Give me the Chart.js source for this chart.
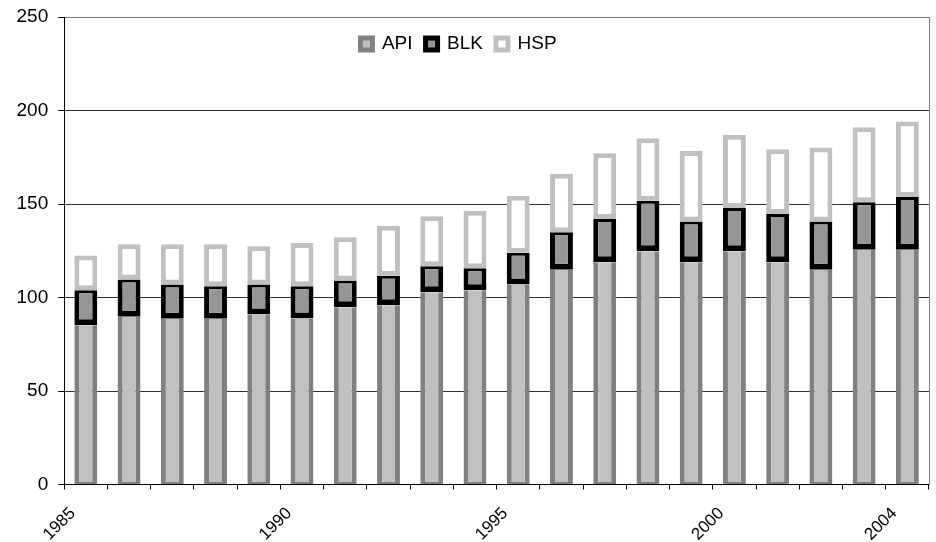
<!DOCTYPE html>
<html>
<head>
<meta charset="utf-8">
<script src="https://cdn.jsdelivr.net/npm/chart.js@4.4.1/dist/chart.umd.min.js"></script>
<style>
  html, body { margin: 0; padding: 0; background: #ffffff; }
  canvas { display: block; }
</style>
</head>
<body>
<canvas id="chart" width="936" height="542"></canvas>
<script>
// Years on the category axis and the ones that carry a label
const years = ['1985', '1986', '1987', '1988', '1989', '1990', '1991', '1992', '1993', '1994',
               '1995', '1996', '1997', '1998', '1999', '2000', '2001', '2002', '2003', '2004'];
const labelledYears = ['1985', '1990', '1995', '2000', '2004'];

// Stacked series (bottom to top)
const api = [85.1, 89.7, 88.6, 88.6, 90.9, 88.8, 94.8, 95.9, 102.8, 103.9,
             106.9, 114.9, 118.9, 124.7, 118.9, 124.7, 118.9, 114.9, 125.6, 125.6];
const blk = [18.8, 19.9, 18.3, 17.4, 16.0, 17.2, 14.3, 15.8, 13.9, 11.7,
             17.0, 20.0, 23.1, 27.1, 21.8, 23.2, 25.8, 25.8, 25.3, 28.1];
const hsp = [18.5, 18.9, 21.6, 22.5, 20.5, 23.2, 23.1, 26.7, 26.7, 30.8,
             30.5, 31.3, 35.2, 33.4, 37.6, 39.2, 34.6, 39.5, 40.2, 40.4];

// Value axis ticks
const yTicks = [0, 50, 100, 150, 200, 250];

const FONT = "'Liberation Sans', Arial, Helvetica, sans-serif";

// Places the legend inside the plot area, near the top, without
// reserving layout space for it.
const legendInPlot = {
  id: 'legendInPlot',
  afterLayout(chart) {
    const lg = chart.legend;
    if (!lg) return;
    lg.left = 0;
    lg.right = 917;
    lg.width = 917;
    lg.top = 21.5;
    lg.bottom = 66;
    lg.height = 44.5;
  }
};

new Chart(document.getElementById('chart'), {
  type: 'bar',
  data: {
    labels: years,
    datasets: [
      {
        label: 'API',
        data: api,
        backgroundColor: '#c0c0c0',
        borderColor: '#808080',
        borderWidth: { top: 0, bottom: 2, left: 5, right: 5 },
        borderSkipped: false
      },
      {
        label: 'BLK',
        data: blk,
        backgroundColor: '#969696',
        borderColor: '#000000',
        borderWidth: { top: 3, bottom: 6, left: 5, right: 5 },
        borderSkipped: false
      },
      {
        label: 'HSP',
        data: hsp,
        backgroundColor: '#ffffff',
        borderColor: '#c0c0c0',
        borderWidth: 5,
        borderSkipped: false
      }
    ]
  },
  options: {
    responsive: false,
    animation: false,
    devicePixelRatio: 1,
    categoryPercentage: 1.0,
    barPercentage: 0.53,
    layout: { padding: { left: 6.5, right: 7, top: 17, bottom: 0 } },
    plugins: {
      title: { display: false },
      tooltip: { enabled: false },
      legend: {
        display: true,
        position: 'top',
        align: 'center',
        maxHeight: 0.01,
        labels: {
          boxWidth: 12,
          boxHeight: 12,
          padding: 13,
          color: '#000000',
          font: { family: FONT, size: 19 },
          generateLabels(chart) {
            return Chart.defaults.plugins.legend.labels.generateLabels(chart)
              .map(item => Object.assign(item, { lineWidth: 5 }));
          }
        }
      }
    },
    scales: {
      x: {
        stacked: true,
        offset: true,
        grid: {
          display: true,
          offset: true,
          drawOnChartArea: false,
          drawTicks: true,
          tickLength: 5,
          tickColor: '#000000'
        },
        border: { display: true, color: '#000000', width: 1 },
        ticks: {
          autoSkip: false,
          minRotation: 45,
          maxRotation: 45,
          padding: 14,
          labelOffset: -13,
          color: '#000000',
          font: { family: FONT, size: 17 },
          callback(value, index) {
            const y = years[index];
            return labelledYears.includes(y) ? y : '';
          }
        },
        afterFit(scale) { scale.height = 57.5; }
      },
      y: {
        stacked: true,
        min: yTicks[0],
        max: yTicks[yTicks.length - 1],
        afterBuildTicks(scale) { scale.ticks = yTicks.map(v => ({ value: v })); },
        afterFit(scale) { scale.paddingTop = 0; scale.paddingBottom = 0; },
        grid: {
          color: ctx => (ctx.tick && ctx.tick.value === 250) ? '#808080' : '#333333',
          lineWidth: 1,
          tickLength: 6,
          tickColor: '#000000'
        },
        border: { display: true, color: '#000000', width: 1 },
        ticks: {
          padding: 10,
          color: '#000000',
          font: { family: FONT, size: 19 }
        }
      },
      frameRight: {
        type: 'linear',
        position: 'right',
        display: true,
        grid: { drawOnChartArea: false, drawTicks: false },
        ticks: { display: false },
        border: { display: true, color: '#808080', width: 1 }
      }
    }
  },
  plugins: [legendInPlot]
});
</script>
</body>
</html>
